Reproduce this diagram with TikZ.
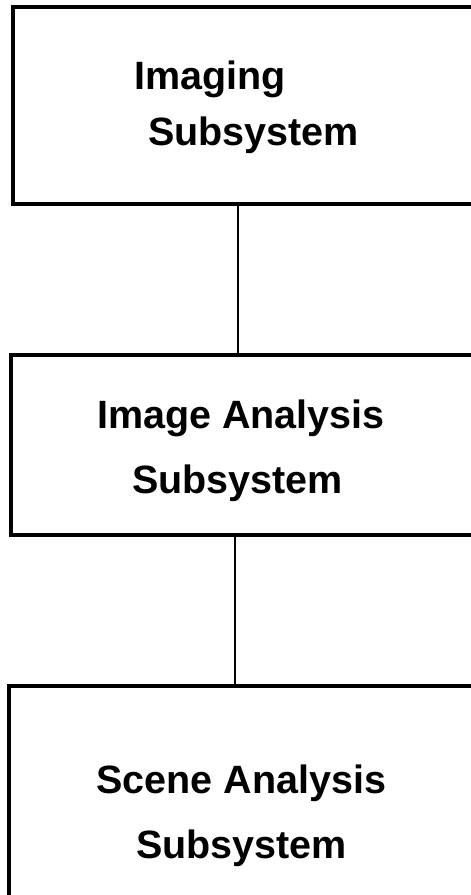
\documentclass[tikz,border=0pt]{standalone}
\usepackage{fontspec}
\setmainfont{Liberation Sans}
\begin{document}
\begin{tikzpicture}[x=1pt,y=-1pt,
  blk/.style={draw=black,line width=3.2pt,inner sep=0pt,fill=white},
  lbl/.style={anchor=base west,inner sep=0pt,font=\fontsize{39.5}{42}\selectfont\bfseries},
  conn/.style={draw=black,line width=2pt}]
\useasboundingbox (0,0) rectangle (471,895);
\clip (0,0) rectangle (471,895);
\node[blk,minimum width=464pt,minimum height=197pt] (b1) at (245,105.5) {};
\node[blk,minimum width=466pt,minimum height=180pt] (b2) at (244,445) {};
\node[blk,minimum width=468pt,minimum height=214pt] (b3) at (243,793) {};
\coordinate (c1) at (238,0);
\coordinate (c2) at (235,0);
\draw[conn] (b1.south -| c1) -- (b2.north -| c1);
\draw[conn] (b2.south -| c2) -- (b3.north -| c2);
\node[lbl] (t1) at (134,89) {Imaging};
\node[lbl] (t2) at (148,145) {Subsystem};
\node[lbl] (t3) at (97,428) {Image Analysis};
\node[lbl] (t4) at (132,493) {Subsystem};
\node[lbl] (t5) at (96,793) {Scene Analysis};
\node[lbl] (t6) at (136,858) {Subsystem};
\end{tikzpicture}
\end{document}
